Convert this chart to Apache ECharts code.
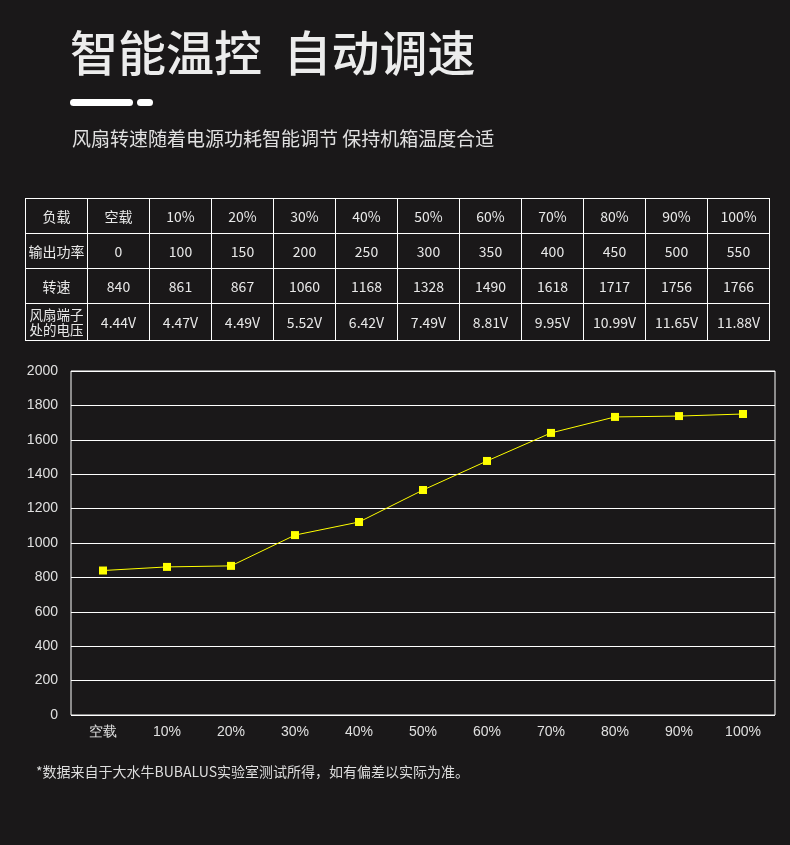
<!DOCTYPE html>
<html><head><meta charset="utf-8">
<script src="https://cdn.jsdelivr.net/npm/echarts@6/dist/echarts.min.js"></script>
<style>
body{margin:0;background:#1a1819;font-family:"Noto Sans CJK SC","Noto Sans",sans-serif;color:#e8e8e8}
#wrap{position:relative;width:790px;height:845px;overflow:hidden}
#chart{position:absolute;left:0;top:0;width:790px;height:845px}
.t{position:absolute;white-space:nowrap}
table{position:absolute;left:25px;top:198px;border-collapse:collapse;font-size:14px;color:#e8e8e8}
td{border:1px solid #fff;text-align:center;padding:0;width:61px}
td.h{line-height:15px;font-size:13.5px}
</style></head><body>
<div id="wrap">
<div id="chart"></div>
<div class="t" style="left:70px;top:15px;font-size:48px;font-weight:500;color:#ececec">智能温控&nbsp;&nbsp;自动调速</div>
<div style="position:absolute;left:70px;top:99px;width:63px;height:7px;border-radius:4px;background:#fff"></div>
<div style="position:absolute;left:137px;top:99px;width:16px;height:7px;border-radius:4px;background:#fff"></div>
<div class="t" style="left:72px;top:124px;font-size:19px;color:#e0e0e0">风扇转速随着电源功耗智能调节 保持机箱温度合适</div>
<table id="tbl"></table>
<div class="t" style="left:36px;top:761px;font-size:14px;color:#ddd">*数据来自于大水牛BUBALUS实验室测试所得，如有偏差以实际为准。</div>
</div>
<script>
const loads = ["空载","10%","20%","30%","40%","50%","60%","70%","80%","90%","100%"];
const power = ["0","100","150","200","250","300","350","400","450","500","550"];
const rpmTable = ["840","861","867","1060","1168","1328","1490","1618","1717","1756","1766"];
const voltage = ["4.44V","4.47V","4.49V","5.52V","6.42V","7.49V","8.81V","9.95V","10.99V","11.65V","11.88V"];
const rpmPlot = [840, 861, 867, 1046, 1122, 1308, 1477, 1640, 1733, 1738, 1750];

const rows = [["负载", loads, 35], ["输出功率", power, 35], ["转速", rpmTable, 35], ["风扇端子<br>处的电压", voltage, 37]];
document.getElementById("tbl").innerHTML = rows.map(function (r) {
  return '<tr style="height:' + r[2] + 'px"><td class="' + (r[0].indexOf("<br>") > 0 ? "h" : "") + '">' + r[0] + '</td>' +
    r[1].map(function (v) { return "<td>" + v + "</td>"; }).join("") + "</tr>";
}).join("");

const chart = echarts.init(document.getElementById("chart"));
chart.setOption({
  backgroundColor: "transparent",
  grid: { left: 71, top: 371, width: 704, height: 344, show: true, borderColor: "#fff", borderWidth: 1 },
  xAxis: {
    type: "category", data: loads,
    axisLine: { show: false }, axisTick: { show: false },
    axisLabel: { color: "#e0e0e0", fontSize: 14, margin: 10 }
  },
  yAxis: {
    type: "value", min: 0, max: 2000, interval: 200,
    axisLine: { show: false }, axisTick: { show: false },
    splitLine: { lineStyle: { color: "#fff", width: 1 } },
    axisLabel: { color: "#e0e0e0", fontSize: 14, margin: 13, formatter: function (v) { return String(v); } }
  },
  series: [{
    type: "line", data: rpmPlot, symbol: "rect", symbolSize: 8,
    lineStyle: { color: "#ffff00", width: 1 }, itemStyle: { color: "#ffff00" }
  }]
});
</script>
</body></html>
